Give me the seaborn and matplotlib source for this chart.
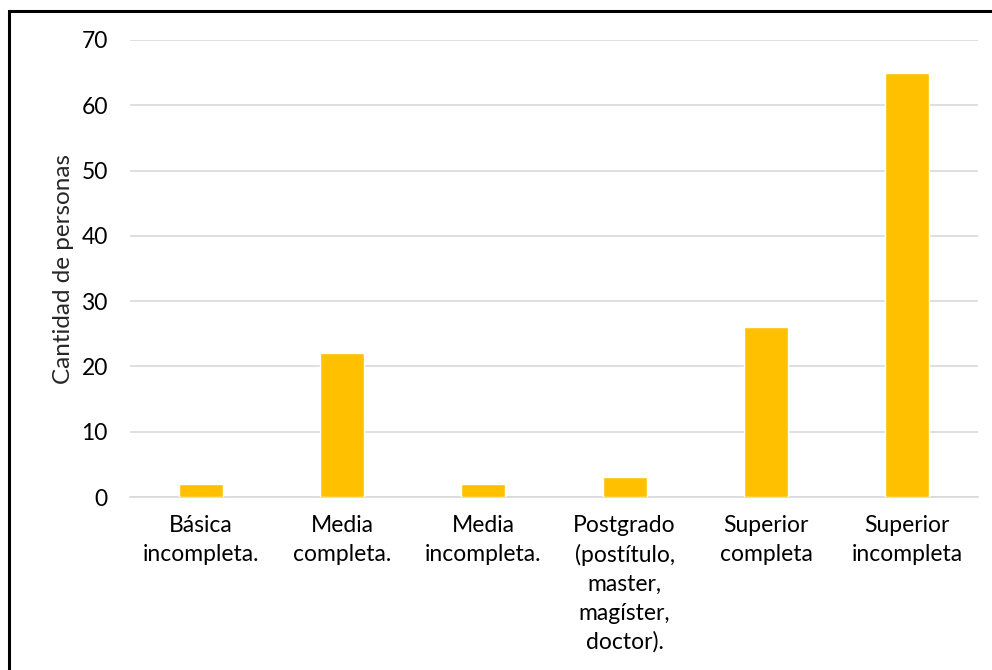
import matplotlib
matplotlib.use("Agg")
import matplotlib.pyplot as plt
import seaborn as sns
import pandas as pd
from matplotlib.patches import Rectangle

categories = [
    "Básica\nincompleta.",
    "Media\ncompleta.",
    "Media\nincompleta.",
    "Postgrado\n(postítulo,\nmaster,\nmagíster,\ndoctor).",
    "Superior\ncompleta",
    "Superior\nincompleta",
]
personas = [2, 22, 2, 3, 26, 65]
y_ticks = [0, 10, 20, 30, 40, 50, 60, 70]

df = pd.DataFrame({"nivel": categories, "personas": personas})

sns.set_theme(style="white")
plt.rcParams["font.family"] = ["Lato", "DejaVu Sans"]

fig = plt.figure(figsize=(9.92, 6.70), dpi=100)
ax = fig.add_axes([130 / 992, 1 - 497 / 670, 848 / 992, 457 / 670])

sns.barplot(data=df, x="nivel", y="personas", color="#FFC000",
            saturation=1, width=0.31, ax=ax, zorder=3)

ax.set_ylim(0, 70)
ax.set_yticks(y_ticks)
ax.set_xlim(-0.5, len(categories) - 0.5)
ax.yaxis.grid(True, color="#D9D9D9", linewidth=1.2, zorder=0)
ax.set_axisbelow(True)
for s in ["top", "right", "left"]:
    ax.spines[s].set_visible(False)
ax.spines["bottom"].set_color("#D9D9D9")
ax.spines["bottom"].set_linewidth(1.2)

ax.tick_params(axis="both", length=0, labelsize=16.5, colors="black")
ax.tick_params(axis="y", pad=16)
ax.tick_params(axis="x", pad=13)
for lbl in ax.get_xticklabels():
    lbl.set_linespacing(1.45)
ax.set_xlabel("")
ax.set_ylabel("Cantidad de personas", fontsize=17.5, labelpad=5)

# chart border
fig.patches.append(Rectangle((9 / 992, -0.1), 1.2, (1 - 11 / 670) + 0.1,
                             transform=fig.transFigure, fill=False,
                             edgecolor="black", linewidth=2.2, clip_on=False))

fig.savefig("out.png", dpi=100)
